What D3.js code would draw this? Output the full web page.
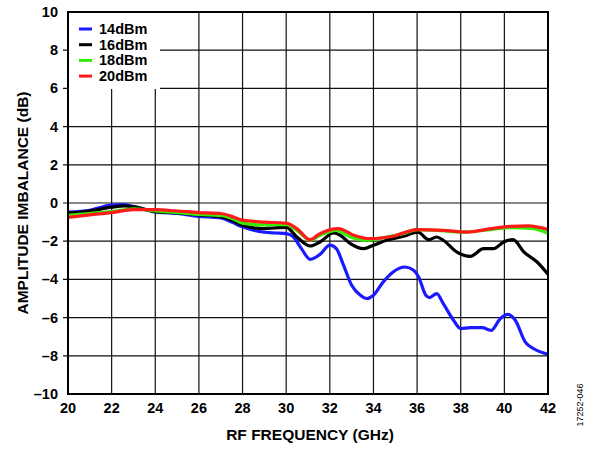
<!DOCTYPE html>
<html>
<head>
<meta charset="utf-8">
<script src="https://cdn.jsdelivr.net/npm/d3@7"></script>
<style>
  body { margin: 0; background: #fff; }
  text { font-family: "Liberation Sans", Arial, sans-serif; }
</style>
</head>
<body>
<div id="chart"></div>
<script>
const width = 595
const height = 449
const margin = {top: 12, right: 47, bottom: 55, left: 68}

// series data
const names = ["14dBm", "16dBm", "18dBm", "20dBm"]
const colors = ["#1a1aff", "#000000", "#33ee00", "#ff1a1a"]

const freq14 = [20, 21, 21.9, 22.5, 23, 24, 25, 26, 27, 27.5, 28, 28.5, 29, 29.5, 30, 30.3, 30.7, 31.1, 31.55, 32, 32.3, 32.6, 33, 33.4, 33.7, 34, 34.45, 34.9, 35.45, 35.84, 36.07, 36.4, 36.57, 36.9, 37.2, 37.67, 38, 38.44, 38.98, 39.39, 39.82, 40.15, 40.5, 40.96, 41.35, 42]
const amp14 = [-0.47, -0.38, -0.12, -0.08, -0.18, -0.47, -0.55, -0.7, -0.78, -1.0, -1.25, -1.43, -1.53, -1.57, -1.6, -1.74, -2.39, -2.95, -2.69, -2.21, -2.39, -3.17, -4.31, -4.83, -5.0, -4.83, -4.13, -3.61, -3.35, -3.52, -3.87, -4.83, -4.95, -4.74, -5.27, -6.14, -6.58, -6.53, -6.53, -6.67, -6.05, -5.83, -6.14, -7.28, -7.63, -7.92]

const freq16 = [20, 21, 22, 22.6, 23, 24, 25, 26, 27, 27.5, 28, 28.5, 29, 29.5, 30, 30.49, 31.1, 31.55, 32.17, 32.48, 32.94, 33.55, 34, 34.6, 35.38, 36.04, 36.53, 36.9, 37.2, 37.83, 38.44, 39.05, 39.5, 39.97, 40.4, 40.9, 41.5, 42]
const amp16 = [-0.52, -0.42, -0.22, -0.15, -0.2, -0.45, -0.52, -0.62, -0.72, -0.9, -1.17, -1.3, -1.34, -1.3, -1.28, -1.78, -2.25, -2.04, -1.57, -1.69, -2.13, -2.39, -2.21, -1.95, -1.74, -1.52, -1.92, -1.78, -1.95, -2.57, -2.79, -2.39, -2.39, -2.04, -1.92, -2.57, -3.09, -3.73]

const freq18 = [20, 21, 22, 23, 24, 25, 26, 27, 27.5, 28, 29, 30, 30.49, 31.1, 31.55, 32.3, 32.94, 33.7, 34.6, 35.38, 36, 36.9, 38.1, 39.4, 40.3, 41.35, 42]
const amp18 = [-0.65, -0.55, -0.45, -0.3, -0.42, -0.5, -0.6, -0.65, -0.8, -1.05, -1.15, -1.13, -1.43, -1.95, -1.69, -1.43, -1.78, -1.95, -1.78, -1.6, -1.39, -1.43, -1.52, -1.39, -1.29, -1.34, -1.6]

const freq20 = [20, 21, 22, 23, 24, 25, 26, 27, 27.5, 28, 29, 30, 30.49, 31.1, 31.55, 32.4, 33.1, 33.85, 34.9, 36, 37.2, 38.3, 39.4, 40.3, 41.1, 42]
const amp20 = [-0.75, -0.62, -0.5, -0.35, -0.35, -0.42, -0.5, -0.55, -0.7, -0.9, -1.0, -1.05, -1.34, -1.92, -1.6, -1.34, -1.69, -1.87, -1.74, -1.39, -1.43, -1.52, -1.34, -1.22, -1.2, -1.39]

const xTicks = [20, 22, 24, 26, 28, 30, 32, 34, 36, 38, 40, 42]
const yTicks = [-10, -8, -6, -4, -2, 0, 2, 4, 6, 8, 10]

const series = [
    {name: names[0], color: colors[0], f: freq14, v: amp14},
    {name: names[1], color: colors[1], f: freq16, v: amp16},
    {name: names[2], color: colors[2], f: freq18, v: amp18},
    {name: names[3], color: colors[3], f: freq20, v: amp20}
]

const x = d3.scaleLinear().domain([20, 42]).range([margin.left, width - margin.right])
const y = d3.scaleLinear().domain([-10, 10]).range([height - margin.bottom, margin.top])

const svg = d3.select("#chart").append("svg")
    .attr("width", width)
    .attr("height", height)

const fmt = d => (d < 0 ? "\u2013" + Math.abs(d) : "" + d)

// grid
svg.append("g")
    .selectAll("line.v")
    .data(xTicks.slice(1, -1))
    .enter().append("line")
    .attr("x1", d => x(d)).attr("x2", d => x(d))
    .attr("y1", y(10)).attr("y2", y(-10))
    .attr("stroke", "#111").attr("stroke-width", 1.2)

svg.append("g")
    .selectAll("line.h")
    .data(yTicks.slice(1, -1))
    .enter().append("line")
    .attr("x1", x(20) - 5).attr("x2", x(42))
    .attr("y1", d => y(d)).attr("y2", d => y(d))
    .attr("stroke", "#111").attr("stroke-width", 1.2)

// legend background hides grid
svg.append("rect")
    .attr("x", x(20) + 1).attr("y", y(10) + 1)
    .attr("width", 91).attr("height", 76)
    .attr("fill", "#fff")

// curves
const line = d3.line()
    .x(d => x(d[0]))
    .y(d => y(d[1]))
    .curve(d3.curveMonotoneX)

svg.append("g")
    .selectAll("path")
    .data(series)
    .enter().append("path")
    .attr("d", s => line(s.f.map((f, i) => [f, s.v[i]])))
    .attr("fill", "none")
    .attr("stroke", s => s.color)
    .attr("stroke-width", 3.2)
    .attr("stroke-linejoin", "round")

// frame
svg.append("rect")
    .attr("x", x(20)).attr("y", y(10))
    .attr("width", x(42) - x(20)).attr("height", y(-10) - y(10))
    .attr("fill", "none").attr("stroke", "#000").attr("stroke-width", 2)

// tick labels
svg.append("g")
    .selectAll("text")
    .data(yTicks)
    .enter().append("text")
    .attr("x", x(20) - 10)
    .attr("y", d => y(d) + 5)
    .attr("text-anchor", "end")
    .attr("font-size", 14.5).attr("font-weight", "bold")
    .text(fmt)

svg.append("g")
    .selectAll("text")
    .data(xTicks)
    .enter().append("text")
    .attr("x", d => x(d))
    .attr("y", y(-10) + 19)
    .attr("text-anchor", "middle")
    .attr("font-size", 14.5).attr("font-weight", "bold")
    .text(d => d)

// axis titles
svg.append("text")
    .attr("x", (x(20) + x(42)) / 2 + 2)
    .attr("y", 440)
    .attr("text-anchor", "middle")
    .attr("font-size", 15.5).attr("font-weight", "bold")
    .text("RF FREQUENCY (GHz)")

svg.append("text")
    .attr("transform", `translate(28,${y(0)}) rotate(-90)`)
    .attr("text-anchor", "middle")
    .attr("font-size", 15.5).attr("font-weight", "bold")
    .text("AMPLITUDE IMBALANCE (dB)")

svg.append("text")
    .attr("transform", "translate(583,405) rotate(-90)")
    .attr("text-anchor", "middle")
    .attr("font-size", 9)
    .text("17252-046")

// legend
const leg = svg.append("g")
    .selectAll("g")
    .data(series)
    .enter().append("g")
    .attr("transform", (d, i) => `translate(79,${29 + i * 15.7})`)

leg.append("line")
    .attr("x1", 0).attr("x2", 13)
    .attr("stroke", d => d.color).attr("stroke-width", 3)

leg.append("text")
    .attr("x", 20).attr("y", 5)
    .attr("font-size", 14.5).attr("font-weight", "bold")
    .text(d => d.name)
</script>
</body>
</html>
